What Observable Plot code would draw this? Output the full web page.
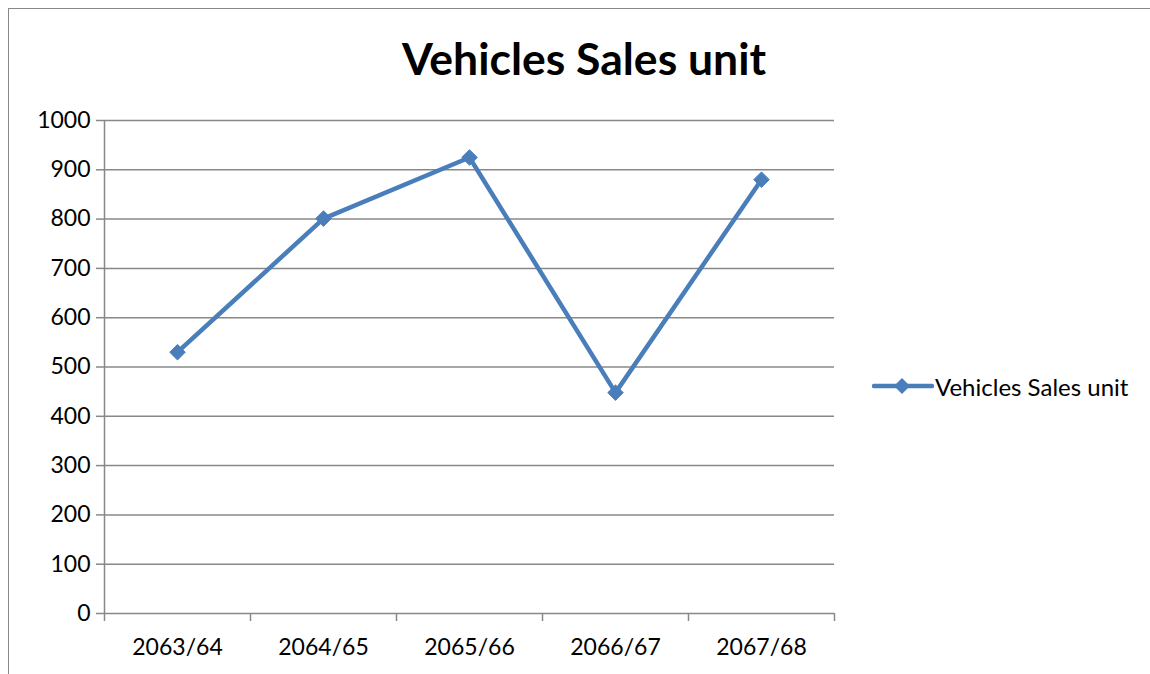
<!DOCTYPE html>
<html>
<head>
<meta charset="utf-8">
<script src="https://cdn.jsdelivr.net/npm/d3@7"></script>
<script src="https://cdn.jsdelivr.net/npm/@observablehq/plot@0.6"></script>
<style>
  html, body { margin: 0; padding: 0; background: #fff; }
  body { width: 1150px; height: 674px; position: relative; overflow: hidden; font-family: Lato, "Open Sans", sans-serif; }
  #frame { position: absolute; left: 8px; top: 8px; width: 1200px; height: 800px; border-left: 1.5px solid #888; border-top: 1.5px solid #888; }
  #title { position: absolute; left: 0; width: 1168px; top: 31px; text-align: center; font-size: 44.5px; font-weight: bold; color: #000; line-height: 1.2; }
  #chart { position: absolute; left: 0; top: 0; }
  #legend { position: absolute; left: 872px; top: 371px; display: flex; align-items: center; font-size: 24px; color: #000; }
</style>
</head>
<body>
<div id="frame"></div>
<div id="title"></div>
<div id="chart"></div>
<div id="legend"></div>
<script>
const categories = ["2063/64", "2064/65", "2065/66", "2066/67", "2067/68"];
const values = [530, 801, 925, 448, 880];
const yTicks = [0, 100, 200, 300, 400, 500, 600, 700, 800, 900, 1000];
const seriesName = "Vehicles Sales unit";
const chartTitle = "Vehicles Sales unit";

const color = "#4A7EBB";
const data = categories.map((c, i) => ({cat: c, idx: i + 0.5, value: values[i]}));
const boundaries = d3.range(categories.length + 1);
const centers = categories.map((c, i) => i + 0.5);

document.getElementById("title").textContent = chartTitle;

const plot = Plot.plot({
  width: 1150,
  height: 674,
  marginLeft: 104,
  marginRight: 316,
  marginTop: 120,
  marginBottom: 61,
  style: {fontFamily: "Lato, 'Open Sans', sans-serif", fontSize: "23px", color: "#000", background: "transparent"},
  x: {type: "linear", domain: [0, categories.length]},
  y: {domain: [0, 1000]},
  marks: [
    Plot.ruleY(yTicks, {stroke: "#888", strokeWidth: 1.5, strokeOpacity: 1}),
    Plot.axisY({ticks: yTicks, tickSize: 8, tickPadding: 6, tickFormat: d => String(d), stroke: "#888", strokeWidth: 1.5, strokeOpacity: 1, fill: "#000", fontSize: 23, label: null}),
    Plot.axisX({ticks: boundaries, tickSize: 8, tickFormat: () => "", stroke: "#888", strokeWidth: 1.5, strokeOpacity: 1, label: null}),
    Plot.axisX({ticks: centers, tickSize: 0, tickPadding: 25, tickFormat: v => categories[Math.round(v - 0.5)], fill: "#000", fontSize: 23, label: null}),
    Plot.ruleX([0], {stroke: "#888", strokeWidth: 1.5}),
    Plot.line(data, {x: "idx", y: "value", stroke: color, strokeWidth: 4.5, strokeLinejoin: "round"}),
    Plot.dot(data, {x: "idx", y: "value", symbol: "diamond2", r: 7, fill: color, stroke: color, strokeWidth: 1})
  ]
});
document.getElementById("chart").appendChild(plot);

const legend = document.getElementById("legend");
legend.innerHTML = `<svg width="62" height="30" style="display:block"><line x1="2" y1="15" x2="60" y2="15" stroke="${color}" stroke-width="4.5" stroke-linecap="round"/><path d="M30,7 L38,15 L30,23 L22,15 Z" fill="${color}"/></svg><span style="margin-left:1px"></span>`;
legend.querySelector("span").textContent = seriesName;
</script>
</body>
</html>
